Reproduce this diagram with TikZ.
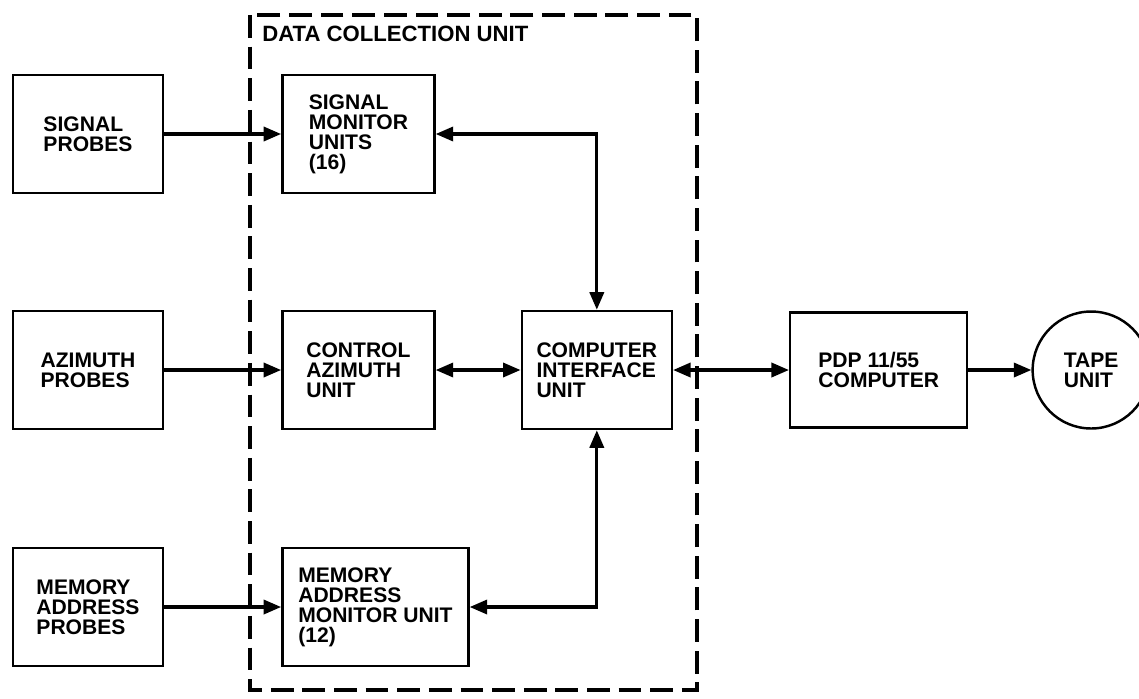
\documentclass[tikz,border=0pt]{standalone}
\usepackage{fontspec}
\setmainfont{Liberation Sans}
\usetikzlibrary{arrows.meta, positioning}
\tikzset{
  unit box/.style={
    rectangle, draw=black, line width=1.4pt,
    minimum width=3cm, minimum height=2.36cm,
    align=left, font=\bfseries\fontsize{12}{11.4}\selectfont,
    inner sep=2pt
  },
  tape reel/.style={
    circle, draw=black, line width=1.4pt,
    minimum size=2.34cm, inner sep=0pt,
    align=left, font=\bfseries\fontsize{12}{11.4}\selectfont
  },
  sig arrow/.style={
    -{Triangle[length=10pt,width=8pt]}, line width=1.9pt
  },
  bus arrow/.style={
    {Triangle[length=10pt,width=8pt]}-{Triangle[length=10pt,width=8pt]}, line width=1.9pt
  },
  dcu frame/.style={
    draw=black, line width=2.2pt, dash pattern=on 13pt off 5pt
  },
  frame label/.style={
    anchor=west, inner sep=0pt, font=\bfseries\fontsize{12.6}{12.6}\selectfont
  }
}

\begin{document}
\begin{tikzpicture}[x=0.02cm, y=-0.02cm]
  \clip (0,0) rectangle (1139,698);

  % data collection unit frame
  \draw [dcu frame] (250,15) rectangle (697,690);
  \node (dcutitle) [frame label] at (262,34) {DATA COLLECTION UNIT};

  % probes
  \node (sigprobe) [unit box] at (88,134) {SIGNAL\\PROBES};
  \node (azprobe) [unit box] at (88,370) {AZIMUTH\\PROBES};
  \node (memprobe) [unit box] at (88,607) {MEMORY\\ADDRESS\\PROBES};

  % middle row
  \node (ctlaz) [unit box, minimum width=3.04cm, right=2.34cm of azprobe] {CONTROL\\AZIMUTH\\UNIT};
  \node (ciu) [unit box, right=1.7cm of ctlaz] {COMPUTER\\INTERFACE\\UNIT};
  \node (pdp) [unit box, minimum width=3.54cm, minimum height=2.3cm, right=2.32cm of ciu] {PDP 11/55\\COMPUTER};
  \node (tape) [tape reel, right=1.26cm of pdp] {TAPE\\UNIT};

  \node (sigmon) [unit box, minimum width=3.04cm] at (ctlaz |- sigprobe) {SIGNAL\\MONITOR\\UNITS\\(16)};
  \node (memmon) [unit box, minimum width=3.72cm, anchor=west] at (ctlaz.west |- memprobe) {MEMORY\\ADDRESS\\MONITOR UNIT\\(12)};

  % tape tail
  \draw [line width=1.4pt] ([shift={(-10,-7)}]tape.east) -- ++(20,0);

  \draw [sig arrow] (sigprobe) -- (sigmon);
  \draw [sig arrow] (azprobe) -- (ctlaz);
  \draw [sig arrow] (memprobe) -- (memmon);
  \draw [bus arrow] (ctlaz) -- (ciu);
  \draw [bus arrow] (ciu) -- (pdp);
  \draw [sig arrow] (pdp) -- (tape);
  \draw [bus arrow] (sigmon.east) -| (ciu.north);
  \draw [bus arrow] (memmon.east) -| (ciu.south);
\end{tikzpicture}
\end{document}
